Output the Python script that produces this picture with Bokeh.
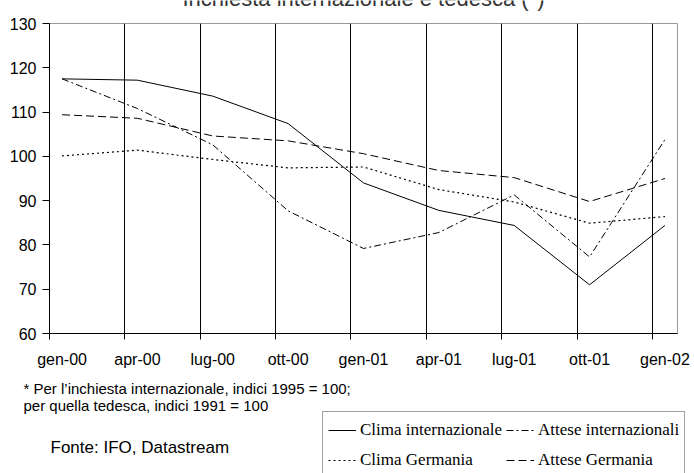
from bokeh.plotting import figure
from bokeh.models import Range1d, FixedTicker, Label, Legend, LegendItem
from bokeh.embed import file_html
from bokeh.resources import INLINE

# ---- data ----
months = ["gen-00", "apr-00", "lug-00", "ott-00", "gen-01",
          "apr-01", "lug-01", "ott-01", "gen-02"]
month_index = [0, 3, 6, 9, 12, 15, 18, 21, 24]
clima_int = [117.5, 117.2, 113.6, 107.4, 94.0, 87.8, 84.4, 71.0, 84.4]
attese_int = [117.5, 110.8, 102.6, 87.7, 79.2, 82.8, 91.3, 77.3, 103.8]
clima_ger = [100.1, 101.4, 99.3, 97.4, 97.6, 92.5, 89.7, 84.9, 86.4]
attese_ger = [109.4, 108.6, 104.6, 103.5, 100.6, 96.8, 95.2, 89.8, 95.0]
y_ticks = [60, 70, 80, 90, 100, 110, 120, 130]
grid_pos = [m - 0.5 for m in month_index]
series_names = ["Clima internazionale", "Attese internazionali",
                "Clima Germania", "Attese Germania"]
series_values = [clima_int, attese_int, clima_ger, attese_ger]

title_text = "Inchiesta internazionale e tedesca (*)"
note1 = "* Per l\u2019inchiesta internazionale, indici 1995 = 100;"
note2 = "per quella tedesca, indici 1991 = 100"
source = "Fonte: IFO, Datastream"

W = 694
styles = [dict(line_color="black", line_width=1),
          dict(line_color="black", line_width=1, line_dash="7 3 2 3"),
          dict(line_color="black", line_width=1.2, line_dash="2 3"),
          dict(line_color="black", line_width=1, line_dash="8 4")]


def blank_fig(height, top_img):
    # a figure whose data coordinates are the page's pixels
    f = figure(width=W, height=height, output_backend="svg",
               toolbar_location=None,
               x_range=Range1d(0, W),
               y_range=Range1d(top_img + height, top_img),
               min_border=0, x_axis_type=None, y_axis_type=None)
    f.outline_line_color = None
    f.grid.grid_line_color = None
    f.background_fill_color = "white"
    f.border_fill_color = "white"
    return f


# ---- title strip (mostly cut off at the top, as in the reference) ----
tf = blank_fig(15, 0)
tf.add_layout(Label(x=363, y=-2, text=title_text, text_align="center",
                    text_baseline="alphabetic", text_font="Liberation Sans",
                    text_font_size="22px", text_color="#333333"))

# ---- main chart ----
p = figure(width=W, height=355, output_backend="svg", toolbar_location=None,
           x_range=Range1d(-0.5, 24.5), y_range=Range1d(60, 130),
           min_border_left=49, min_border_right=17,
           min_border_top=8, min_border_bottom=37)
p.outline_line_color = "#9a9a9a"
p.outline_line_width = 1
p.background_fill_color = "white"
p.border_fill_color = "white"

p.ygrid.grid_line_color = None
p.xgrid.ticker = FixedTicker(ticks=grid_pos)
p.xgrid.grid_line_color = "black"
p.xgrid.grid_line_width = 1

xa = p.xaxis[0]
xa.ticker = FixedTicker(ticks=month_index, minor_ticks=grid_pos)
xa.major_label_overrides = {m: lab for m, lab in zip(month_index, months)}
xa.major_tick_line_color = None
xa.major_tick_out = 0
xa.major_tick_in = 0
xa.minor_tick_line_color = "black"
xa.minor_tick_out = 6
xa.minor_tick_in = 0
xa.axis_line_color = "black"
xa.major_label_standoff = 11
xa.major_label_text_font = "Liberation Sans"
xa.major_label_text_font_size = "16px"
xa.major_label_text_color = "black"

ya = p.yaxis[0]
ya.ticker = FixedTicker(ticks=y_ticks)
ya.minor_tick_line_color = None
ya.major_tick_out = 7
ya.major_tick_in = 0
ya.major_tick_line_color = "black"
ya.axis_line_color = "black"
ya.major_label_standoff = 6
ya.major_label_text_font = "Liberation Sans"
ya.major_label_text_font_size = "16px"
ya.major_label_text_color = "black"

for vals, st in zip(series_values, styles):
    p.line(month_index, vals, **st)

# ---- bottom strip: notes and legend ----
bf = blank_fig(103, 370)
for txt, x, y, fs in [(note1, 23, 388, "15px"), (note2, 23, 405, "15px"),
                      (source, 50, 447, "17px")]:
    bf.add_layout(Label(x=x, y=y, text=txt, text_align="left",
                        text_baseline="middle", text_font="Liberation Sans",
                        text_font_size=fs, text_color="black"))

# legend keys: same series and styles (their values fall outside this strip)
keys = [bf.line(month_index, vals, **st)
        for vals, st in zip(series_values, styles)]
legend = Legend(items=[LegendItem(label=n, renderers=[k])
                       for n, k in zip(series_names, keys)],
                orientation="horizontal", ncols=2)
legend.location = (322, -6)
legend.label_text_font = "Liberation Serif"
legend.label_text_font_size = "17px"
legend.label_text_color = "black"
legend.glyph_width = 28
legend.glyph_height = 26
legend.label_height = 26
legend.label_standoff = 4
legend.spacing = 4
legend.padding = 5
legend.margin = 0
legend.border_line_color = "#444444"
legend.border_line_width = 1
legend.background_fill_color = "white"
legend.background_fill_alpha = 1
bf.add_layout(legend, "center")

open("out.html", "w").write(file_html([tf, p, bf], INLINE))
